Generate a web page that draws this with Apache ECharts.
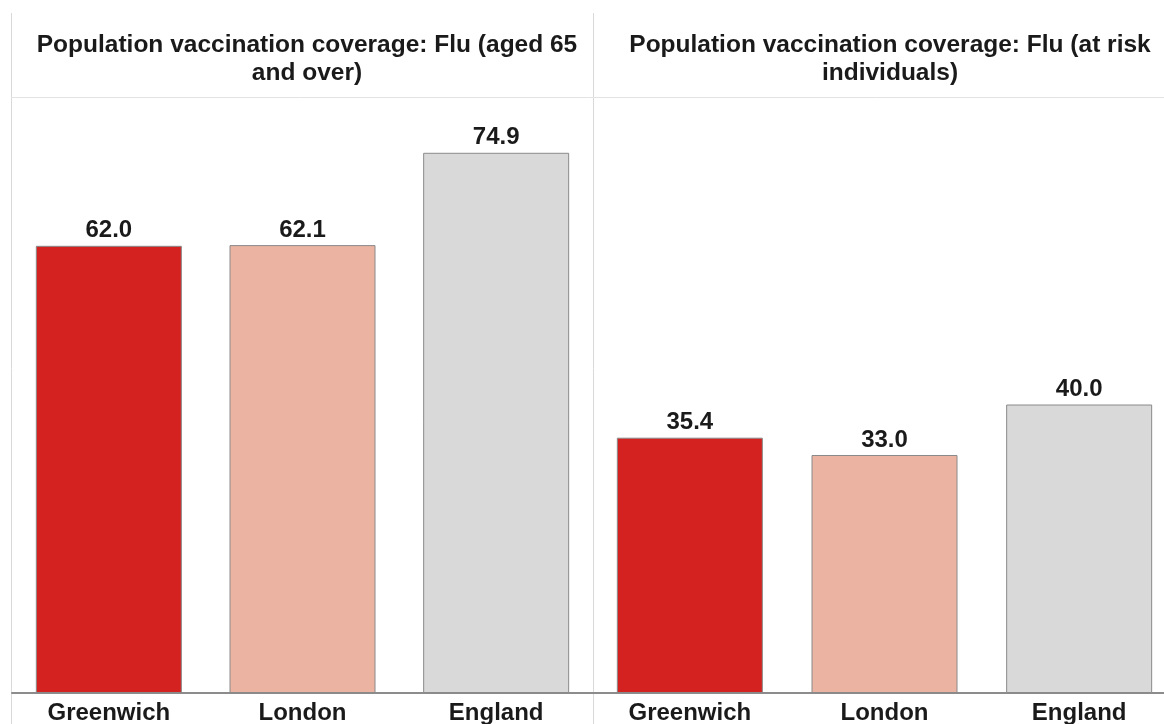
<!DOCTYPE html>
<html><head><meta charset="utf-8">
<script src="https://cdn.jsdelivr.net/npm/echarts@6/dist/echarts.min.js"></script>
<style>html,body{margin:0;padding:0;background:#fff}#c{width:1164px;height:724px}</style>
</head><body><div id="c"></div>
<script>
const categories = ['Greenwich', 'London', 'England'];
const aged65Values = [62.0, 62.1, 74.9];
const atRiskValues = [35.4, 33.0, 40.0];
const panelTitles = ['Population vaccination coverage: Flu (aged 65\nand over)', 'Population vaccination coverage: Flu (at risk\nindividuals)'];
const barColors = ['#d3221f', '#ebb3a2', '#d9d9d9'];

const chart = echarts.init(document.getElementById('c'));
const font = "'Liberation Sans', Arial, sans-serif";
function mkData(vals){ return vals.map((v,i)=>({value:v, itemStyle:{color:barColors[i]}})); }
function xAx(gi){ return {type:'category', gridIndex:gi, data:categories,
  axisLine:{lineStyle:{color:'#8c8c8c', width:2}}, axisTick:{show:false},
  axisLabel:{fontFamily:font, fontWeight:'bold', fontSize:24, color:'#1a1a1a', margin:8}}; }
function yAx(gi){ return {type:'value', gridIndex:gi, min:0, max:80, show:false, splitLine:{show:false}}; }
function ser(gi, vals){ return {type:'bar', xAxisIndex:gi, yAxisIndex:gi, data:mkData(vals), barWidth:146,
  itemStyle:{borderColor:'#8a8a8a', borderWidth:1},
  label:{show:true, position:'top', distance:3, formatter:p=>p.value.toFixed(1), fontFamily:font, fontWeight:'bold', fontSize:24, color:'#1a1a1a'},
  silent:true}; }
chart.setOption({
  animation:false,
  title:[
    {text:panelTitles[0], left:302, top:26, textAlign:'center', textStyle:{fontFamily:font, fontWeight:'bold', fontSize:24.5, color:'#1a1a1a', lineHeight:28}},
    {text:panelTitles[1], left:885, top:26, textAlign:'center', textStyle:{fontFamily:font, fontWeight:'bold', fontSize:24.5, color:'#1a1a1a', lineHeight:28}}
  ],
  grid:[
    {left:12, right:571, top:116, bottom:31, outerBoundsMode:'none'},
    {left:592.5, right:-12.5, top:116, bottom:31, outerBoundsMode:'none'}
  ],
  xAxis:[xAx(0), xAx(1)],
  yAxis:[yAx(0), yAx(1)],
  series:[ser(0, aged65Values), ser(1, atRiskValues)],
  graphic:[
    {type:'line', shape:{x1:11.5,y1:13,x2:11.5,y2:724}, style:{stroke:'#d9d9d9', lineWidth:1}, z:-1},
    {type:'line', shape:{x1:593.5,y1:13,x2:593.5,y2:724}, style:{stroke:'#d9d9d9', lineWidth:1}, z:-1},
    {type:'line', shape:{x1:11,y1:97.5,x2:1164,y2:97.5}, style:{stroke:'#e3e3e3', lineWidth:1}, z:-1}
  ]
});
</script></body></html>
